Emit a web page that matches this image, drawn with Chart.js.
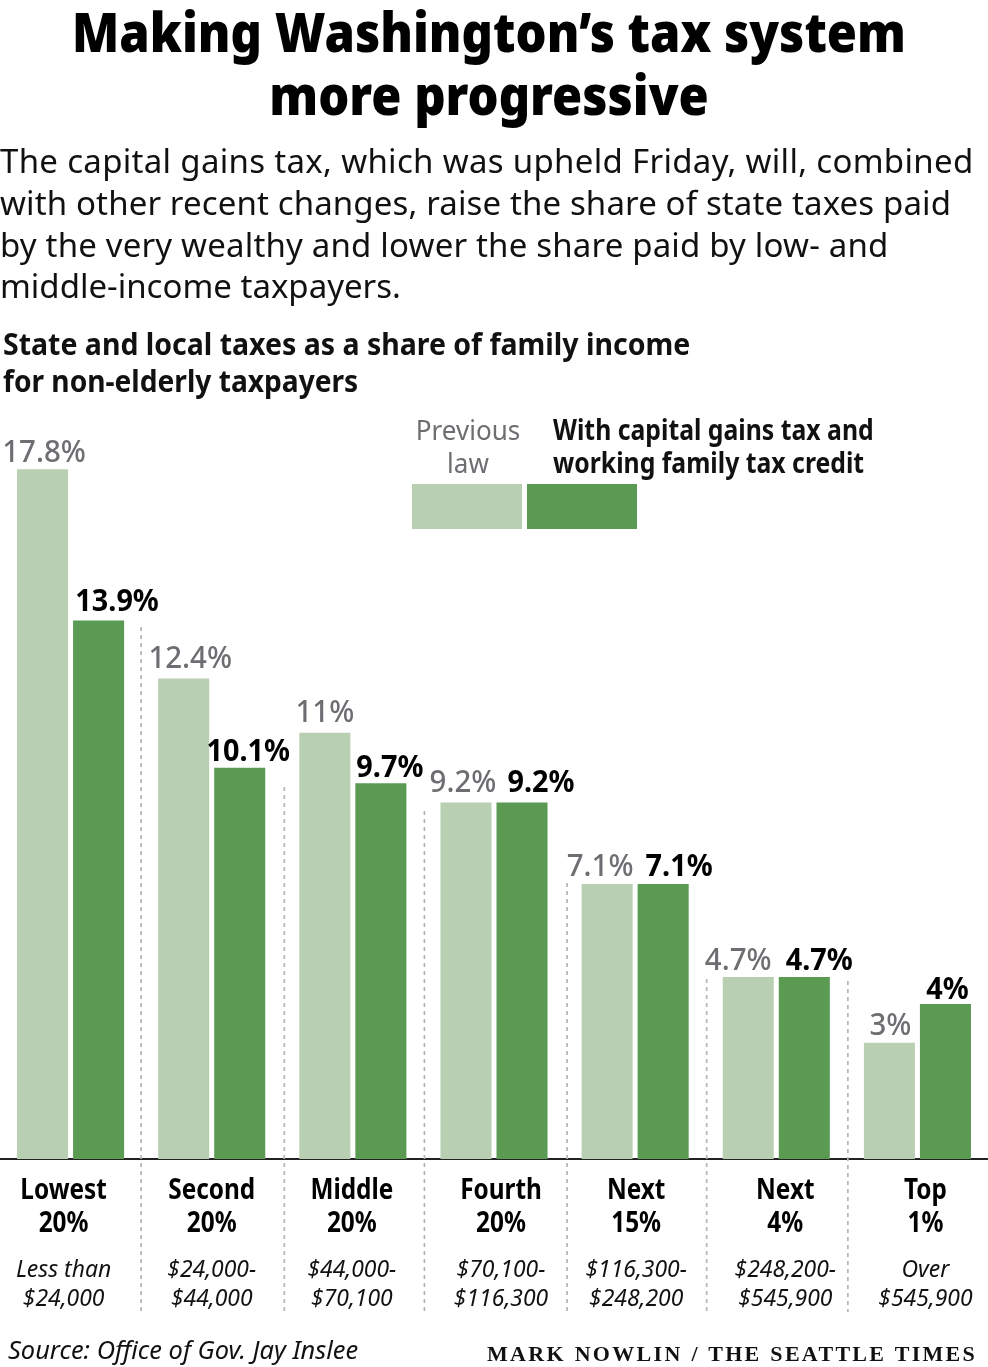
<!DOCTYPE html>
<html>
<head>
<meta charset="utf-8">
<style>
  html, body { margin: 0; padding: 0; background: #fff; }
  #page { position: relative; width: 988px; height: 1367px; overflow: hidden; }
  canvas { position: absolute; left: 0; top: 0; }
  .txt { position: absolute; white-space: nowrap; font-family: "Noto Sans", sans-serif; transform-origin: 0 0; }
  .center { text-align: center; }
  #title { left: -5.5px; width: 988px; top: 0; font-family: "Noto Sans", sans-serif; font-weight: 900; font-size: 54px; line-height: 63px; color: #000; transform-origin: 50% 0; transform: scaleX(0.905); }
  .intro { left: 0; font-size: 33px; line-height: 42px; color: #111; }
  .sub { left: 3px; font-weight: bold; font-size: 30px; line-height: 37px; color: #111; transform: scaleX(0.949); }
  .swatch { position: absolute; top: 484px; height: 45px; width: 110px; }
</style>
<script src="https://cdn.jsdelivr.net/npm/chart.js@4"></script>
</head>
<body>
<div id="page">
  <canvas id="chart" width="988" height="1367"></canvas>
  <div class="txt center" id="title">Making Washington’s tax system<br>more progressive</div>
  <div class="txt intro" style="top:140px;letter-spacing:.31px">The capital gains tax, which was upheld Friday, will, combined</div>
  <div class="txt intro" style="top:182px;letter-spacing:.13px">with other recent changes, raise the share of state taxes paid</div>
  <div class="txt intro" style="top:224px;letter-spacing:.18px">by the very wealthy and lower the share paid by low- and</div>
  <div class="txt intro" style="top:265px">middle-income taxpayers.</div>
  <div class="txt sub" style="top:325px">State and local taxes as a share of family income</div>
  <div class="txt sub" style="top:362px;transform:scaleX(.938)">for non-elderly taxpayers</div>
  <div class="txt center" style="left:398px;width:140px;top:413px;font-size:28px;line-height:33px;color:#6d6e71;transform-origin:50% 0;transform:scaleX(.93)">Previous<br>law</div>
  <div class="txt" style="left:553px;top:413px;font-size:28px;line-height:33px;font-weight:bold;color:#111;transform:scaleX(.885)">With capital gains tax and<br>working family tax credit</div>
  <div class="swatch" id="swatchA" style="left:412px"></div>
  <div class="swatch" id="swatchB" style="left:527px"></div>
  <div class="txt" style="left:8px;top:1331px;font-size:26px;font-style:italic;color:#111;transform:scaleX(.977)">Source: Office of Gov. Jay Inslee</div>
  <div class="txt" style="left:487px;top:1341px;font:bold 22px 'Liberation Serif',serif;letter-spacing:2.3px;word-spacing:1px;color:#111">MARK NOWLIN / THE SEATTLE TIMES</div>
</div>
<script>
const groupNames = ["Lowest", "Second", "Middle", "Fourth", "Next", "Next", "Top"];
const groupShares = ["20%", "20%", "20%", "20%", "15%", "4%", "1%"];
const incomeLine1 = ["Less than", "$24,000-", "$44,000-", "$70,100-", "$116,300-", "$248,200-", "Over"];
const incomeLine2 = ["$24,000", "$44,000", "$70,100", "$116,300", "$248,200", "$545,900", "$545,900"];
const previousLaw = [17.8, 12.4, 11, 9.2, 7.1, 4.7, 3];
const withCapitalGains = [13.9, 10.1, 9.7, 9.2, 7.1, 4.7, 4];

const lightGreen = "#b9cfb1";
const darkGreen = "#5a9a53";
const labelGray = "#6d6e71";

// hand nudges, the printed labels are not centred on their bars
const prevNudge = [1.5, 6.5, 0, -3, -7, -10, 1];
const nextNudge = [18.5, 8.5, 9, 19, 16, 15, 2];
const prevLift = [0, 3, 3, 3, 0, -1, 0];
const nextLift = [2, -1, -1, 3, 0, -1, -2];
const catNudge = [-7, 0, -1, 7, 1, 9, 8];
const dividerNudge = [0, 2, 1, 2.5, 1, 1];
const dividerTops = [627, 787, 811, 883, 979, 981];

document.getElementById("swatchA").style.background = lightGreen;
document.getElementById("swatchB").style.background = darkGreen;

// the reference face is narrower than Noto Sans, so squeeze to a share of natural width
function squeezed(ctx, text, x, y, k) {
  ctx.fillText(text, x, y, ctx.measureText(text).width * k);
}

const annotate = {
  id: "annotate",
  afterDatasetsDraw(chart) {
    const ctx = chart.ctx;
    const x = chart.scales.x;
    const bottom = chart.chartArea.bottom;
    ctx.save();

    // dotted dividers between groups
    ctx.strokeStyle = "#b5b5b5";
    ctx.lineWidth = 1.7;
    ctx.setLineDash([4, 4]);
    dividerTops.forEach((top, i) => {
      const px = (x.getPixelForValue(i) + x.getPixelForValue(i + 1)) / 2 + dividerNudge[i];
      ctx.beginPath();
      ctx.moveTo(px, top);
      ctx.lineTo(px, 1312);
      ctx.stroke();
    });
    ctx.setLineDash([]);

    // value labels
    ctx.textAlign = "center";
    ctx.textBaseline = "alphabetic";
    chart.getDatasetMeta(0).data.forEach((bar, i) => {
      ctx.font = "500 31px 'Noto Sans'";
      ctx.fillStyle = labelGray;
      squeezed(ctx, previousLaw[i] + "%", bar.x + prevNudge[i], bar.y - 7.5 - prevLift[i], 0.95);
    });
    chart.getDatasetMeta(1).data.forEach((bar, i) => {
      ctx.font = "bold 31px 'Noto Sans'";
      ctx.fillStyle = "#000";
      squeezed(ctx, withCapitalGains[i] + "%", bar.x + nextNudge[i], bar.y - 7.5 - nextLift[i], 0.93);
    });

    // group labels under the axis
    groupNames.forEach((name, i) => {
      const px = x.getPixelForValue(i) + catNudge[i];
      ctx.fillStyle = "#000";
      ctx.font = "bold 28px 'Noto Sans'";
      squeezed(ctx, name, px, bottom + 40, 0.87);
      squeezed(ctx, groupShares[i], px, bottom + 73, 0.87);
      ctx.fillStyle = "#111";
      ctx.font = "italic 24px 'Noto Sans'";
      squeezed(ctx, incomeLine1[i], px, bottom + 118, 0.955);
      squeezed(ctx, incomeLine2[i], px, bottom + 147, 0.955);
    });
    ctx.restore();
  }
};

new Chart(document.getElementById("chart"), {
  type: "bar",
  data: {
    labels: groupNames,
    datasets: [
      { label: "Previous law", data: previousLaw, backgroundColor: lightGreen },
      { label: "With capital gains tax and working family tax credit", data: withCapitalGains, backgroundColor: darkGreen }
    ]
  },
  options: {
    responsive: false,
    animation: false,
    layout: { padding: { left: 0, right: 0, top: 384, bottom: 200 } },
    plugins: { legend: { display: false }, title: { display: false }, tooltip: { enabled: false } },
    datasets: { bar: { categoryPercentage: 0.794, barPercentage: 0.911 } },
    scales: {
      x: {
        grid: { display: false },
        border: { color: "#222", width: 2 },
        ticks: { display: false }
      },
      y: { display: false, min: 0, max: 20 }
    }
  },
  plugins: [annotate]
});
</script>
</body>
</html>
